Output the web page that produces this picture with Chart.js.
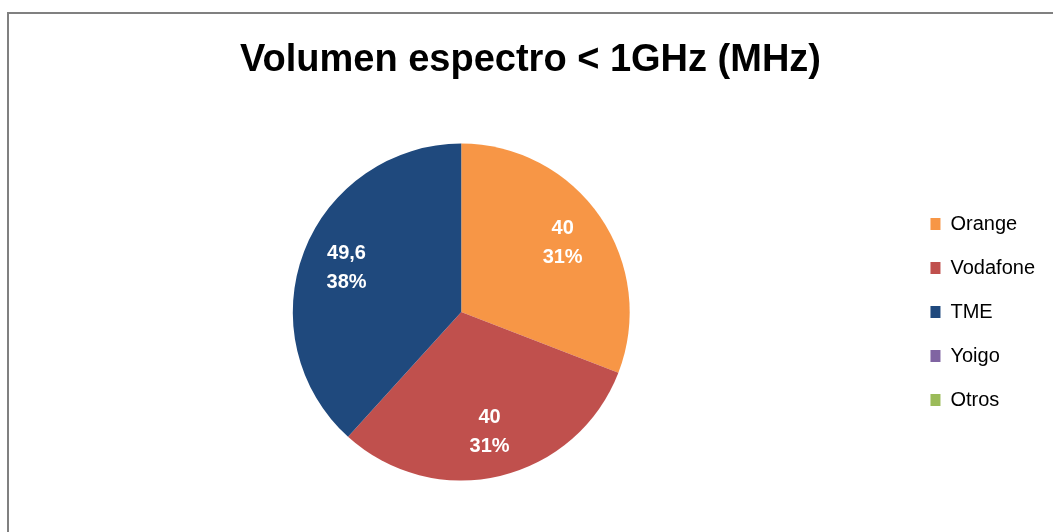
<!DOCTYPE html>
<html>
<head>
<meta charset="utf-8">
<script src="https://cdn.jsdelivr.net/npm/chart.js@4.4.1/dist/chart.umd.min.js"></script>
<style>
  html, body { margin: 0; padding: 0; background: #fff; }
  #wrap { width: 1053px; height: 532px; position: relative; }
</style>
</head>
<body>
<div id="wrap"><canvas id="chart"></canvas></div>
<script>
// Data
const operators = ['Orange', 'Vodafone', 'TME', 'Yoigo', 'Otros'];
const spectrumMHz = [40, 40, 49.6, 0, 0];
const sliceColors = ['#F79646', '#C0504D', '#1F497D', '#8064A2', '#9BBB59'];

// Frame around the chart (cut off at right/bottom like the original)
const framePlugin = {
  id: 'frame',
  beforeDraw(chart) {
    const c = chart.ctx;
    c.save();
    c.fillStyle = '#ffffff';
    c.fillRect(0, 0, chart.width, chart.height);
    c.strokeStyle = '#808080';
    c.lineWidth = 2;
    c.strokeRect(8, 13, chart.width + 20, chart.height + 20);
    c.restore();
  }
};

// Value + percentage labels inside each slice
const sliceLabels = {
  id: 'sliceLabels',
  afterDatasetsDraw(chart) {
    const c = chart.ctx;
    const meta = chart.getDatasetMeta(0);
    const data = chart.data.datasets[0].data;
    const total = data.reduce((a, b) => a + b, 0);
    c.save();
    c.fillStyle = '#ffffff';
    c.font = "bold 20px 'Liberation Sans', sans-serif";
    c.textAlign = 'center';
    c.textBaseline = 'middle';
    meta.data.forEach((arc, i) => {
      if (!data[i]) return;
      const p = arc.getProps(['x', 'y', 'startAngle', 'endAngle', 'outerRadius']);
      const mid = (p.startAngle + p.endAngle) / 2;
      const r = p.outerRadius * 0.73;
      const x = p.x + Math.cos(mid) * r;
      const y = p.y + Math.sin(mid) * r;
      const valText = String(data[i]).replace('.', ',');
      const pctText = Math.round(data[i] / total * 100) + '%';
      c.fillText(valText, x, y - 14);
      c.fillText(pctText, x, y + 15);
    });
    c.restore();
  }
};

new Chart(document.getElementById('chart'), {
  type: 'pie',
  data: {
    labels: operators,
    datasets: [{
      data: spectrumMHz,
      backgroundColor: sliceColors,
      borderWidth: 0,
      hoverOffset: 0
    }]
  },
  options: {
    responsive: true,
    maintainAspectRatio: false,
    animation: false,
    layout: {
      padding: { left: 16, right: 8, top: 0, bottom: 51.5 }
    },
    plugins: {
      title: {
        display: true,
        text: 'Volumen espectro < 1GHz (MHz)',
        color: '#000000',
        font: { family: "'Liberation Sans', sans-serif", size: 38, weight: 'bold', lineHeight: 1.2 },
        padding: { top: 38, bottom: 60 }
      },
      legend: {
        position: 'right',
        fullSize: false,
        labels: {
          color: '#000000',
          boxWidth: 10,
          boxHeight: 12,
          padding: 24,
          font: { family: "'Liberation Sans', sans-serif", size: 20 }
        }
      },
      tooltip: { enabled: false }
    }
  },
  plugins: [framePlugin, sliceLabels]
});
</script>
</body>
</html>
